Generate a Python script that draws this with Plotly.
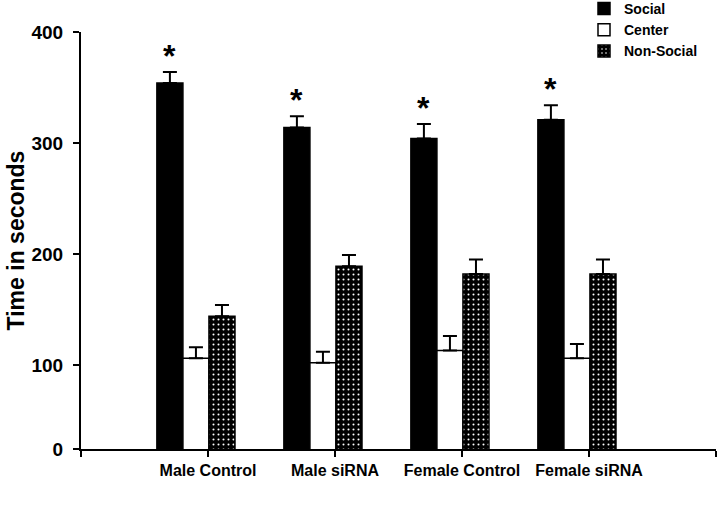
import plotly.graph_objects as go

groups = ["Male Control", "Male siRNA", "Female Control", "Female siRNA"]
series = ["Social", "Center", "Non-Social"]
social = [354, 314, 304, 321]
social_err = [10, 10, 13, 13]
center = [106, 102, 113, 106]
center_err = [10, 10, 13, 13]
nonsocial = [144, 189, 182, 182]
nonsocial_err = [10, 10, 13, 13]
y_tick_vals = [24.3, 100, 200, 300, 400]
y_tick_text = ["0", "100", "200", "300", "400"]
significant = [True, True, True, True]

FONT = "Liberation Sans"
GROUP_OFFSET = 0.905  # group centre relative to category boundary
W, H = 720, 508

xpos = [i + GROUP_OFFSET for i in range(len(groups))]

fig = go.Figure()
err_style = dict(type="data", symmetric=False, color="black", thickness=2, width=7)

fig.add_trace(go.Bar(
    name=series[0], x=xpos, y=social,
    marker=dict(color="black", line=dict(color="black", width=1.5)),
    error_y=dict(array=social_err, arrayminus=[0]*4, **err_style),
))
fig.add_trace(go.Bar(
    name=series[1], x=xpos, y=center,
    marker=dict(color="white", line=dict(color="black", width=1.5)),
    error_y=dict(array=center_err, arrayminus=[0]*4, **err_style),
))
fig.add_trace(go.Bar(
    name=series[2], x=xpos, y=nonsocial,
    marker=dict(color="black", line=dict(color="black", width=1.5),
                pattern=dict(shape=".", fgcolor="white", bgcolor="black",
                             size=5, solidity=0.13, fillmode="replace")),
    error_y=dict(array=nonsocial_err, arrayminus=[0]*4, **err_style),
))

for i, sig in enumerate(significant):
    if sig:
        fig.add_annotation(
            x=xpos[i] - 0.205, y=social[i] + social_err[i], text="*",
            showarrow=False, yanchor="bottom", yshift=-4,
            font=dict(family=FONT, size=32, color="black", weight="bold"),
        )

fig.update_layout(
    width=W, height=H,
    margin=dict(l=0, r=0, t=0, b=0, autoexpand=False),
    paper_bgcolor="white", plot_bgcolor="white",
    barmode="group", bargap=0.385, bargroupgap=0,
    font=dict(family=FONT, color="black", weight="bold"),
    showlegend=True,
    legend=dict(x=584 / W, y=1.0 + 7 / H, xanchor="left", yanchor="top",
                font=dict(family=FONT, size=14, color="black", weight="bold"),
                tracegroupgap=0, bgcolor="rgba(0,0,0,0)"),
)
fig.update_xaxes(
    domain=[81 / W, 716 / W], automargin=False,
    range=[0, 5], tickvals=[0, 1, 2, 3, 4, 5],
    ticktext=[""] + groups + [""],
    showline=True, linecolor="black", linewidth=2,
    ticks="outside", ticklen=6, tickwidth=1.5, tickcolor="black",
    showgrid=False, zeroline=False,
    tickfont=dict(family=FONT, size=16, color="black", weight="bold"),
)
fig.update_yaxes(
    domain=[(H - 449) / H, (H - 32) / H], automargin=False,
    range=[24.3, 400], tickvals=y_tick_vals, ticktext=y_tick_text,
    showline=True, linecolor="black", linewidth=2,
    ticks="outside", ticklen=6, tickwidth=1.5, tickcolor="black",
    showgrid=False, zeroline=False, ticklabelstandoff=6,
    tickfont=dict(family=FONT, size=19, color="black", weight="bold"),
    title=dict(text="Time in seconds", standoff=0,
               font=dict(family=FONT, size=23, color="black", weight="bold")),
)

fig.write_html("out.html", config={"displayModeBar": False},
               post_script="document.body.style.margin='0';")
